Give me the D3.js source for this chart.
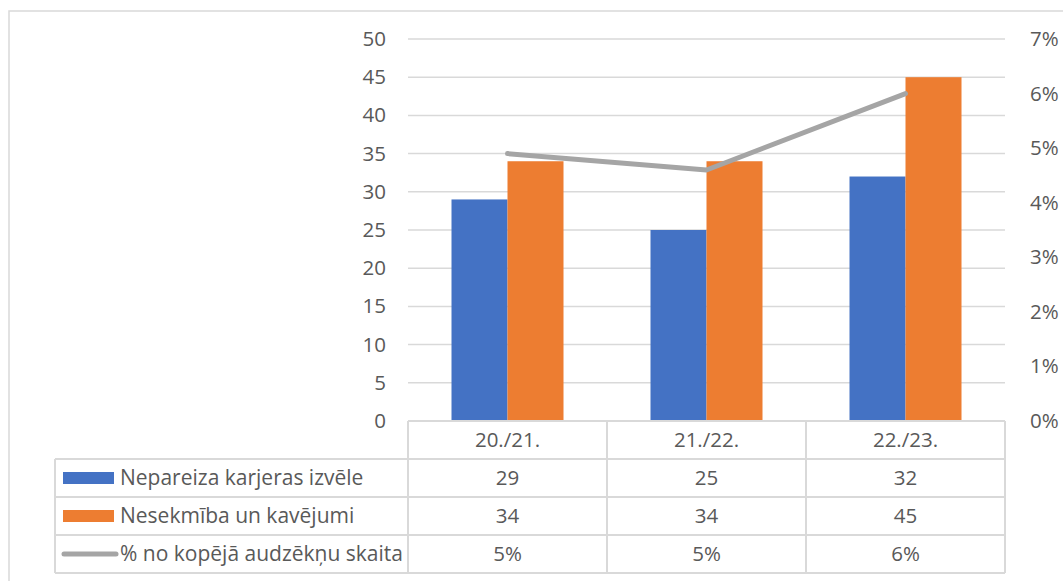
<!DOCTYPE html>
<html><head><meta charset="utf-8">
<script src="https://cdn.jsdelivr.net/npm/d3@7"></script>
<style>body{margin:0;background:#fff;} svg{display:block;}</style>
</head><body>
<svg id="c" width="1063" height="581"></svg>
<script>
const categories = ["20./21.", "21./22.", "22./23."];
const seriesNames = ["Nepareiza karjeras izvēle", "Nesekmība un kavējumi", "% no kopējā audzēkņu skaita"];
const careerChoice = [29, 25, 32];
const failureAbsence = [34, 34, 45];
const percentTotal = [0.049, 0.046, 0.060];
const percentLabels = ["5%", "5%", "6%"];
const leftTicks = [0,5,10,15,20,25,30,35,40,45,50];
const rightTicks = [0,0.01,0.02,0.03,0.04,0.05,0.06,0.07];

const colors = ["#4472C4", "#ED7D31", "#A5A5A5"];
const textColor = "#595959";
const gridColor = "#D9D9D9";
const font = "'Open Sans', sans-serif";
const fs = 20.5;

const svg = d3.select("#c");
svg.append("rect").attr("x",9).attr("y",11).attr("width",1070).attr("height",600)
  .attr("fill","none").attr("stroke",gridColor).attr("stroke-width",1.5);

const L = 408, R = 1005, T = 39, B = 421;
const x = d3.scaleBand().domain(categories).range([L, R]);
const y = d3.scaleLinear().domain([0, 50]).range([B, T]);
const y2 = d3.scaleLinear().domain([0, 0.07]).range([B, T]);

svg.append("g").selectAll("line").data(leftTicks.slice(1)).join("line")
  .attr("x1", L).attr("x2", R).attr("y1", d=>y(d)).attr("y2", d=>y(d))
  .attr("stroke", gridColor).attr("stroke-width", 1.5);

const ga = svg.append("g").attr("transform", `translate(${L},0)`)
  .call(d3.axisLeft(y).tickValues(leftTicks).tickSize(0).tickPadding(22));
ga.select(".domain").remove();
ga.selectAll("text").attr("font-family", font).attr("font-size", fs).attr("fill", textColor);

const gb = svg.append("g").attr("transform", `translate(${R},0)`)
  .call(d3.axisRight(y2).tickValues(rightTicks).tickFormat(d3.format(".0%")).tickSize(0).tickPadding(25));
gb.select(".domain").remove();
gb.selectAll("text").attr("font-family", font).attr("font-size", fs).attr("fill", textColor);

const bw = 56;
const sub = d3.scaleBand().domain([0,1]).range([0, bw*2]);
const barG = svg.append("g");
[careerChoice, failureAbsence].forEach((vals, si) => {
  barG.append("g").selectAll("rect").data(vals).join("rect")
    .attr("x", (d,i) => x(categories[i]) + x.bandwidth()/2 - bw + sub(si))
    .attr("width", sub.bandwidth())
    .attr("y", d => y(d)).attr("height", d => y(0) - y(d))
    .attr("fill", colors[si]);
});

const line = d3.line().x((d,i)=>x(categories[i]) + x.bandwidth()/2).y(d=>y2(d));
svg.append("path").datum(percentTotal).attr("d", line).attr("fill","none")
  .attr("stroke", colors[2]).attr("stroke-width", 5).attr("stroke-linecap","round").attr("stroke-linejoin","round");

const rowH = 38;
const tbl = svg.append("g");
const rowsY = [B, B+rowH, B+2*rowH, B+3*rowH, B+4*rowH];
const LL = 55;
rowsY.forEach((yy, i) => {
  tbl.append("line").attr("x1", i===0 ? L : LL).attr("x2", R).attr("y1", yy).attr("y2", yy)
    .attr("stroke", gridColor).attr("stroke-width", 2);
});
[L, ...categories.map(c => x(c) + x.bandwidth())].forEach(xx => {
  tbl.append("line").attr("x1", xx).attr("x2", xx).attr("y1", B).attr("y2", rowsY[4])
    .attr("stroke", gridColor).attr("stroke-width", 2);
});
tbl.append("line").attr("x1", LL).attr("x2", LL).attr("y1", rowsY[1]).attr("y2", rowsY[4])
  .attr("stroke", gridColor).attr("stroke-width", 2);

tbl.selectAll("text.h").data(categories).join("text").attr("class","h")
  .attr("x", d => x(d) + x.bandwidth()/2).attr("y", B + rowH/2).attr("dy","0.35em")
  .attr("text-anchor","middle").attr("font-family", font).attr("font-size", fs).attr("fill", textColor)
  .text(d => d);

const rowVals = [careerChoice.map(String), failureAbsence.map(String), percentLabels];
rowVals.forEach((vals, r) => {
  const cy = rowsY[r+1] + rowH/2;
  tbl.append("g").selectAll("text").data(vals).join("text")
    .attr("x", (d,i) => x(categories[i]) + x.bandwidth()/2).attr("y", cy).attr("dy","0.35em")
    .attr("text-anchor","middle").attr("font-family", font).attr("font-size", fs).attr("fill", textColor)
    .text(d => d);
  if (r < 2) {
    tbl.append("rect").attr("x", 63).attr("y", cy - 6).attr("width", 51).attr("height", 12).attr("fill", colors[r]);
  } else {
    tbl.append("line").attr("x1", 64).attr("x2", 116).attr("y1", cy).attr("y2", cy)
      .attr("stroke", colors[2]).attr("stroke-width", 5).attr("stroke-linecap","round");
  }
  tbl.append("text").attr("x", 120).attr("y", cy).attr("dy","0.35em")
    .attr("font-family", font).attr("font-size", 21).attr("fill", textColor)
    .text(seriesNames[r]);
});
</script>
</body></html>
